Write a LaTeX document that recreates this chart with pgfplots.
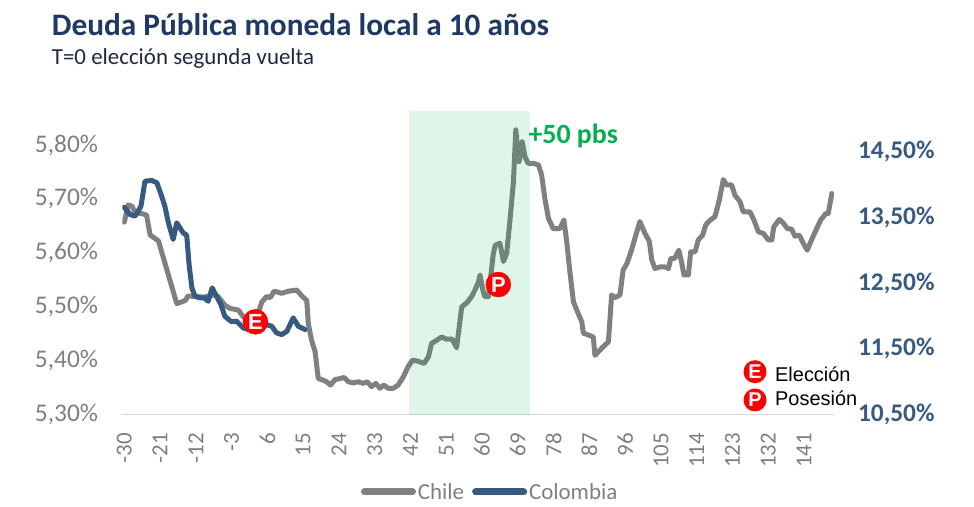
\documentclass[border=0pt]{standalone}
\usepackage{fontspec}
\setmainfont{Carlito}
\newfontfamily\arialf{Liberation Sans}
\usepackage{pgfplots}
\pgfplotsset{compat=1.18}
\definecolor{chile}{RGB}{128,128,128}
\definecolor{colom}{RGB}{54,90,130}
\definecolor{ttl}{RGB}{31,56,100}
\definecolor{subc}{RGB}{30,40,60}
\definecolor{grn}{RGB}{0,176,80}
\definecolor{lbl}{RGB}{127,127,127}
\definecolor{axl}{RGB}{217,217,217}

\begin{document}
\begin{tikzpicture}[x=1bp,y=1bp]
\useasboundingbox (0,0) rectangle (974,507);
\pgfplotsset{
  base/.style={scale only axis, width=711.5bp, height=303.7bp,
    at={(122.3bp,92.3bp)}, anchor=south west,
    xmin=-30.5, xmax=148.5, major tick length=0pt, minor tick num=0},
  chilestyle/.style={color=chile, line width=5bp, line join=round, line cap=round},
  colstyle/.style={color=colom, line width=5bp, line join=round, line cap=round},
}
% ---------- left axis: Chile ----------
\begin{axis}[base, ymin=5.30, ymax=5.863,
  axis x line*=bottom, axis y line*=left,
  axis line style={-}, y axis line style={draw=none},
  x axis line style={draw=axl, line width=1.5bp},
  xtick={-30,-21,...,141},
  xticklabels={-30,-21,-12,-3,6,15,24,33,42,51,60,69,78,87,96,105,114,123,132,141},
  xticklabel style={yshift=-18bp, rotate=90, anchor=east, inner sep=0pt, text=lbl,
    font=\fontsize{23}{23}\selectfont},
  ytick={5.3,5.4,5.5,5.6,5.7,5.8},
  yticklabels={{5,30\%},{5,40\%},{5,50\%},{5,60\%},{5,70\%},{5,80\%}},
  yticklabel style={anchor=east, inner sep=0pt, xshift=-24bp, text=lbl,
    font=\fontsize{25.5}{26}\selectfont},
]
\addplot[chilestyle] coordinates {
(-30,5.657) (-29,5.689) (-28,5.686) (-27.3,5.674) (-25.6,5.673) (-24.4,5.670)
(-23.5,5.633) (-22.3,5.627) (-21.4,5.622) (-16.8,5.506) (-15.6,5.509) (-14.6,5.512)
(-14,5.520) (-10,5.518) (-7.5,5.522) (-6.4,5.519) (-4.7,5.503) (-3.4,5.497)
(-1.3,5.494) (0,5.481) (1.5,5.475) (3,5.472) (4.6,5.509) (5.8,5.519) (6.7,5.517)
(7.7,5.529) (9.6,5.525) (11.3,5.529) (13.4,5.531) (14.8,5.519) (15.9,5.512)
(16.3,5.469) (17.1,5.438) (18.0,5.417) (18.8,5.367) (20.1,5.364) (20.9,5.361)
(21.9,5.355) (23.0,5.365) (24.3,5.367) (25.3,5.369) (26.4,5.361) (27.6,5.359)
(28.9,5.361) (30.1,5.358) (31.1,5.361) (32.2,5.352) (33.3,5.358) (34.3,5.349)
(35.3,5.355) (36.4,5.349) (37.7,5.349) (38.9,5.355) (40.2,5.370) (41.4,5.389)
(42.5,5.401) (44.0,5.399) (45.4,5.395) (46.5,5.407) (47.3,5.432) (48.6,5.438)
(49.8,5.444) (51.1,5.440) (52.5,5.440) (53.6,5.424) (54.9,5.500) (56.1,5.507)
(57.4,5.519) (58.2,5.531) (59.1,5.546) (59.5,5.559) (60.2,5.531) (60.7,5.519)
(61.6,5.519) (62.8,5.596) (63.3,5.614) (64.5,5.618) (65.4,5.584) (66.2,5.599)
(67.0,5.658) (67.9,5.732) (68.5,5.828) (69.3,5.769) (70.1,5.806) (70.8,5.778)
(71.6,5.766) (72.9,5.766) (74.2,5.763) (75.0,5.744) (75.8,5.701) (76.7,5.664)
(77.9,5.645) (79.6,5.645) (80.6,5.661) (81.3,5.621) (82.1,5.565) (83.0,5.509)
(84.0,5.491) (85.1,5.472) (85.5,5.451) (87.0,5.447) (88.0,5.444) (88.4,5.410)
(89.7,5.420) (90.9,5.429) (91.8,5.435) (92.6,5.522) (93.4,5.517) (94.7,5.522)
(95.5,5.568) (96.5,5.581) (97.6,5.605) (98.7,5.633) (99.7,5.658) (101.0,5.636)
(102.1,5.621) (102.7,5.587) (103.5,5.571) (104.8,5.574) (106.0,5.574) (106.9,5.571)
(107.5,5.590) (108.5,5.590) (109.5,5.605) (110.2,5.583) (110.8,5.559) (111.9,5.559)
(112.5,5.602) (113.6,5.602) (114.4,5.624) (115.5,5.633) (116.3,5.652) (117.3,5.660)
(118.6,5.667) (119.7,5.698) (120.7,5.736) (121.5,5.726) (122.8,5.726) (123.6,5.707)
(124.9,5.695) (125.7,5.676) (127.4,5.676) (128.4,5.661) (129.5,5.639) (130.8,5.636)
(132.0,5.624) (132.9,5.624) (133.4,5.648) (134.8,5.662) (135.8,5.655) (136.8,5.645)
(137.9,5.644) (138.7,5.631) (139.8,5.633) (140.8,5.618) (141.8,5.605) (142.9,5.624)
(144.0,5.642) (145.2,5.661) (146.5,5.673) (147.1,5.673) (148,5.710)
};
% shaded window
\addplot[draw=none, fill=grn, fill opacity=0.12, forget plot]
  coordinates {(41.7,5.863) (72,5.863)} \closedcycle;
\end{axis}
% ---------- right axis: Colombia ----------
\begin{axis}[base, ymin=10.5, ymax=15.111,
  hide x axis, axis y line*=right,
  y axis line style={draw=none},
  ytick={10.5,11.5,12.5,13.5,14.5},
  yticklabels={{10,50\%},{11,50\%},{12,50\%},{13,50\%},{14,50\%}},
  yticklabel style={anchor=west, inner sep=0pt, xshift=24bp, text=colom,
    font=\bfseries\fontsize{25.5}{26}\selectfont},
  legend style={at={(0.517,-0.2545)}, anchor=center, draw=none, fill=none,
    legend columns=2, font=\fontsize{23}{23}\selectfont, text=lbl,
    /tikz/every even column/.append style={column sep=6bp},
    inner sep=0pt},
  legend image code/.code={\draw[#1, line width=7bp, line cap=round] (0bp,0bp) -- (48bp,0bp);},
]
\addlegendimage{chilestyle}
\addlegendentry{Chile}
\addplot[colstyle] coordinates {
(-30,13.650) (-28.6,13.540) (-27.3,13.514) (-25.8,13.666) (-24.8,14.046)
(-23.1,14.056) (-21.8,14.021) (-20.6,13.818) (-19.8,13.666) (-18.9,13.413)
(-17.7,13.160) (-16.8,13.413) (-16.0,13.337) (-15.2,13.261) (-14.3,13.225)
(-13.7,12.780) (-13.0,12.426) (-12.2,12.298) (-11.0,12.274) (-9.9,12.274)
(-8.9,12.222) (-7.9,12.426) (-6.8,12.298) (-5.7,12.172) (-4.7,11.994)
(-3.2,11.918) (-1.7,11.918) (-0.1,11.818) (1.2,11.792) (3,11.850) (4.5,11.880)
(5.8,11.868) (7.1,11.842) (8.3,11.742) (9.6,11.716) (10.9,11.766) (12.5,11.970)
(13.8,11.842) (15.5,11.792)
};
\addlegendentry{Colombia}
% event markers (E = eleccion, P = posesion)
\addplot[only marks, mark=*, mark size=12.5bp, mark options={fill=red, draw=red},
  nodes near coords, point meta=explicit symbolic,
  every node near coord/.style={anchor=center, text=white, inner sep=0pt,
    font=\arialf\bfseries\fontsize{22}{22}\selectfont},
  forget plot]
  coordinates {(3,11.91) [E] (64.1,12.476) [P]};
\end{axis}
% ---------- texts ----------
\node[anchor=base west, inner sep=0pt, text=ttl, font=\bfseries\fontsize{31.4}{36}\selectfont]
  at (51.7,471) {Deuda Pública moneda local a 10 años};
\node[anchor=base west, inner sep=0pt, text=subc, font=\fontsize{23}{26}\selectfont]
  at (51.7,442) {T=0 elección segunda vuelta};
\node[anchor=base west, inner sep=0pt, text=grn, font=\bfseries\fontsize{28}{28}\selectfont]
  at (528.3,363.7) {+50 pbs};
% event key
\node[circle, fill=red, minimum size=23bp, inner sep=0pt, text=white,
  font=\arialf\bfseries\fontsize{20}{20}\selectfont] at (755,135.3) {E};
\node[anchor=base west, inner sep=0pt, font=\arialf\fontsize{20}{24}\selectfont]
  at (775,125.3) {Elección};
\node[circle, fill=red, minimum size=23bp, inner sep=0pt, text=white,
  font=\arialf\bfseries\fontsize{20}{20}\selectfont] at (755,107) {P};
\node[anchor=base west, inner sep=0pt, font=\arialf\fontsize{20}{24}\selectfont]
  at (775,101) {Posesión};
\end{tikzpicture}
\end{document}
